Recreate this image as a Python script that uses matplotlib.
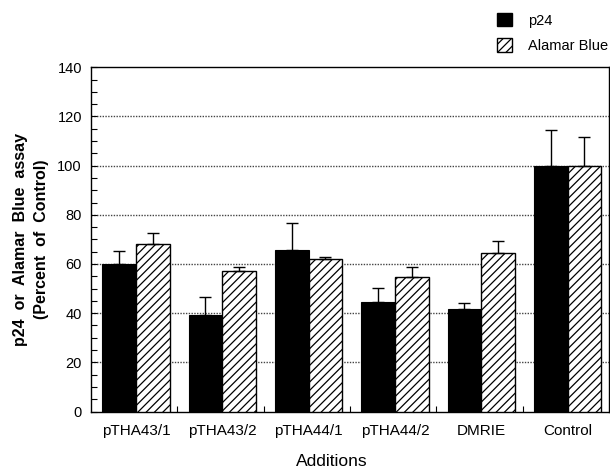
import matplotlib
matplotlib.use("Agg")
import matplotlib.pyplot as plt
from matplotlib.patches import Patch
from matplotlib.ticker import MultipleLocator
import numpy as np

plt.rcParams["font.family"] = ["Liberation Sans", "DejaVu Sans"]
plt.rcParams["hatch.linewidth"] = 0.9

# data
categories = ["pTHA43/1", "pTHA43/2", "pTHA44/1", "pTHA44/2", "DMRIE", "Control"]
p24 = [60.0, 39.2, 65.7, 44.6, 41.8, 100.0]
p24_err = [5.4, 7.2, 11.0, 5.7, 2.2, 14.7]
alamar = [68.1, 57.0, 62.2, 54.6, 64.3, 100.0]
alamar_err = [4.6, 1.9, 0.7, 4.3, 5.1, 11.5]

fig = plt.figure(figsize=(6.1, 4.71), dpi=100)
ax = fig.add_axes([91 / 610, 59.5 / 471, 518 / 610, 344.2 / 471])

x = np.arange(len(categories)) + 0.52
w = 0.39

ax.bar(x - w / 2, p24, w, color="black", edgecolor="black", linewidth=0.8, zorder=3,
       label="p24")
ax.bar(x + w / 2, alamar, w, color="white", edgecolor="black", hatch="////",
       linewidth=1.0, zorder=3, label="Alamar Blue")
zeros = [0] * len(categories)
ax.errorbar(x - w / 2, p24, yerr=[zeros, p24_err], fmt="none", ecolor="black",
            elinewidth=1.0, capsize=4.5, capthick=1.0, zorder=4)
ax.errorbar(x + w / 2, alamar, yerr=[zeros, alamar_err], fmt="none", ecolor="black",
            elinewidth=1.0, capsize=4.5, capthick=1.0, zorder=4)

ax.set_xlim(0, 6)
ax.set_ylim(0, 140)
ax.yaxis.set_major_locator(MultipleLocator(20))
ax.yaxis.set_minor_locator(MultipleLocator(5))
ax.tick_params(axis="y", which="both", direction="in", length=4, width=0.8,
               pad=6.5, labelsize=10.5)
ax.set_xticks(x)
ax.set_xticklabels(categories)
ax.tick_params(axis="x", which="major", length=0, pad=9, labelsize=11)
ax.set_xticks(np.arange(1, 6), minor=True)
ax.tick_params(axis="x", which="minor", direction="in", length=4, width=0.8)

for yv in range(20, 140, 20):
    ax.axhline(yv, color="#444444", linestyle=(0, (1, 1)), linewidth=1.0, zorder=1)

for s in ax.spines.values():
    s.set_linewidth(1.0)

# axis titles placed in figure pixels
fig.text(31 / 610, 1 - 239 / 471, "p24  or  Alamar  Blue  assay\n(Percent  of  Control)",
         rotation=90, ha="center", va="center", fontsize=11.5, fontweight="bold",
         linespacing=1.45, multialignment="center")
fig.text(332 / 610, 1 - 462 / 471, "Additions", ha="center", va="center", fontsize=12.5)

handles = [Patch(facecolor="black", edgecolor="black"),
           Patch(facecolor="white", edgecolor="black", hatch="////")]
fig.legend(handles, ["p24", "Alamar Blue"], loc="upper left",
           bbox_to_anchor=(497 / 610, 1 - 13 / 471), frameon=False, fontsize=10.5,
           handlelength=1.0, handleheight=1.0, handletextpad=1.1,
           labelspacing=0.75, borderpad=0, borderaxespad=0)

fig.savefig("out.png", dpi=100)
